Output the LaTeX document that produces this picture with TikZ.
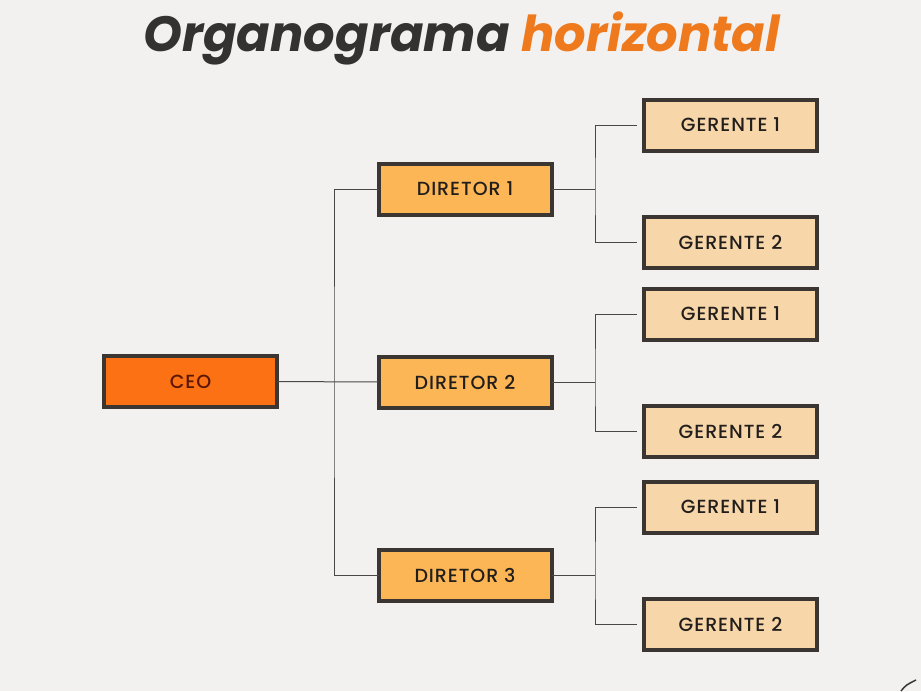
\documentclass[tikz,border=0pt]{standalone}
\usepackage{fontspec}
\setmainfont{Poppins}
\newfontfamily\boxfont[LetterSpace=5]{Poppins Medium}
\usepackage{tikz}
\usetikzlibrary{positioning}

\definecolor{bgcol}{HTML}{F3F1EF}
\definecolor{edgecol}{HTML}{3B3631}
\definecolor{ceocol}{HTML}{FB7113}
\definecolor{dircol}{HTML}{FDB655}
\definecolor{gercol}{HTML}{F7D6A9}
\definecolor{titleorange}{HTML}{EF7A1E}
\definecolor{titledark}{HTML}{333231}
\definecolor{linecol}{HTML}{4A4744}

\tikzset{
    orgbox/.style={draw=edgecol, line width=4pt, minimum width=173pt, minimum height=51pt,
        inner sep=0pt, outer sep=0pt, font=\boxfont\fontsize{19}{21}\selectfont, text={rgb,255:red,34;green,30;blue,28}},
    ceobox/.style={orgbox, fill=ceocol, text={rgb,255:red,90;green,22;blue,6}},
    dirbox/.style={orgbox, fill=dircol},
    gerbox/.style={orgbox, fill=gercol},
    conn/.style={draw=linecol, line width=1pt}
}

\begin{document}
\begin{tikzpicture}[x=1pt, y=-1pt]
        \fill [bgcol] (0,0) rectangle (921,691);
        \useasboundingbox (0,0) rectangle (921,691);
        % title
        \node (title) at (461.5,38) {\fontsize{49.5}{54}\selectfont\bfseries\itshape
            \textcolor{titledark}{Organograma} \textcolor{titleorange}{horizontal}};
        % boxes
        \node [ceobox] (ceo) at (190.5,381.5) {CEO};
        \node [dirbox] (d1) at (465,189) {DIRETOR 1};
        \node [dirbox] (d2) at (465,382) {DIRETOR 2};
        \node [dirbox] (d3) at (465,575) {DIRETOR 3};
        \node [gerbox] (g11) at (730.5,125) {GERENTE 1};
        \node [gerbox] (g12) at (730.5,242) {GERENTE 2};
        \node [gerbox] (g21) at (730.5,314) {GERENTE 1};
        \node [gerbox] (g22) at (730.5,431) {GERENTE 2};
        \node [gerbox] (g31) at (730.5,507) {GERENTE 1};
        \node [gerbox] (g32) at (730.5,624) {GERENTE 2};
        % connectors
        \coordinate (j0) at (334,382);
        \draw [conn] (ceo) -- (d2);
        \draw [conn] (d1.west) -| (j0) |- (d3.west);
        \coordinate (j1) at (595,189);
        \coordinate (j2) at (595,382);
        \coordinate (j3) at (595,575);
        \draw [conn] (d1) -- (j1);
        \draw [conn] (d2) -- (j2);
        \draw [conn] (d3) -- (j3);
        \draw [conn] ([xshift=-7pt]g11.west) -| (j1) |- ([xshift=-7pt]g12.west);
        \draw [conn] ([xshift=-7pt]g21.west) -| (j2) |- ([xshift=-7pt]g22.west);
        \draw [conn] ([xshift=-7pt]g31.west) -| (j3) |- ([xshift=-7pt]g32.west);
        % corner mark
        \draw [edgecol, line width=1.5pt] (901,691) .. controls (906,685) .. (916,680);
    \end{tikzpicture}
\end{document}
